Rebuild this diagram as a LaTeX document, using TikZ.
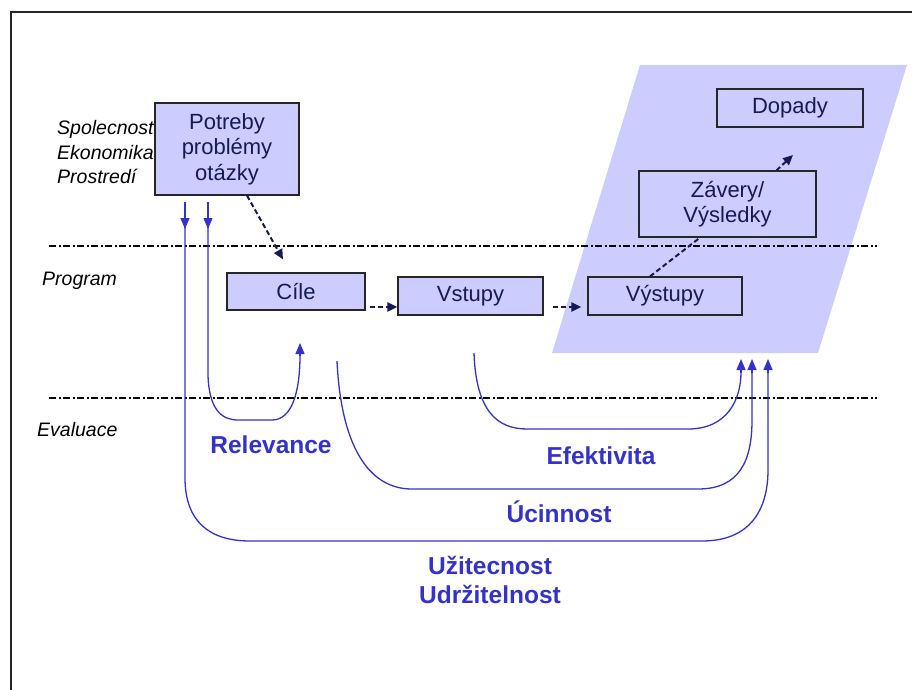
\documentclass[tikz,border=0pt]{standalone}
\usepackage{fontspec}
\setmainfont{Liberation Sans}
\usetikzlibrary{arrows.meta,calc}
\definecolor{boxfill}{HTML}{CCCCFF}
\definecolor{navy}{HTML}{141A55}
\definecolor{lblue}{HTML}{3333CC}
\definecolor{bordergray}{HTML}{262626}
\begin{document}
\begin{tikzpicture}[x=1pt,y=-1pt,
  stepbox/.style={draw=bordergray, line width=1.2pt, fill=boxfill, text=navy,
    font=\fontsize{22}{25.5}\selectfont, align=center, inner sep=0pt},
  sidelbl/.style={font=\fontsize{19.5}{24}\selectfont\itshape, text=black, anchor=base west, inner sep=0pt},
  evallbl/.style={font=\fontsize{24.5}{30}\selectfont\bfseries, text=lblue, align=center, inner sep=0pt},
  dashdotline/.style={line width=2pt, dash pattern=on 7pt off 2.5pt on 2pt off 2.5pt},
  dasharrow/.style={draw=navy, line width=2pt, dash pattern=on 5pt off 3pt, -{Triangle[length=10pt,width=9pt]}},
  dashnoarrow/.style={draw=navy, line width=2pt, dash pattern=on 5pt off 3pt},
  bluearrow/.style={draw=lblue, line width=1.3pt, -{Triangle[length=11pt,width=9pt]}},
  blueline/.style={draw=lblue, line width=1.3pt}
]
\useasboundingbox (0,0) rectangle (912,690);
\fill[white] (0,0) rectangle (912,690);
% frame
\draw[line width=1.5pt, draw=black!85] (11,690) -- (11,12) -- (912,12);

% parallelogram
\fill[boxfill] (640,65) -- (907,65) -- (818,353) -- (552,353) -- cycle;

% side labels
\node[sidelbl] (lsp) at (57,135) {Spolecnost};
\node[sidelbl] (lek) at (57,159) {Ekonomika};
\node[sidelbl] (lpr) at (57,183) {Prostredí};
\node[sidelbl] (lpg) at (42,285) {Program};
\node[sidelbl] (lev) at (37,436) {Evaluace};

% separators
\coordinate (s1a) at (49,246); \coordinate (s1b) at (877,246);
\coordinate (s2a) at (49,398); \coordinate (s2b) at (877,398);
\draw[dashdotline] (s1a) -- (s1b);
\draw[dashdotline] (s2a) -- (s2b);

% boxes
\node[stepbox, minimum width=144pt, minimum height=92pt] (pot) at (227,149) {Potreby\\problémy\\otázky};
\node[stepbox, minimum width=138pt, minimum height=37pt] (cile) at (296,291.5) {Cíle};
\node[stepbox, minimum width=145pt, minimum height=38pt] (vst) at (470.5,296) {Vstupy};
\node[stepbox, minimum width=154pt, minimum height=38pt] (vys) at (665,296) {Výstupy};
\node[stepbox, minimum width=177pt, minimum height=66pt] (zav) at (727.5,204) {Závery/\\Výsledky};
\node[stepbox, minimum width=146pt, minimum height=38pt] (dop) at (790,108) {Dopady};

% dashed connectors
\coordinate (pc1) at ($(pot.south)+(20,0)$);
\coordinate (pc2) at ($(cile.north)+(-13,-13)$);
\draw[dasharrow] (pc1) -- (pc2);
\draw[dasharrow] ($(cile.east)+(4,15.5)$) -- ($(vst.west)+(0,11)$);
\draw[dasharrow] ($(vst.east)+(9,11)$) -- ($(vys.west)+(-6,11)$);
\coordinate (vz1) at ($(vys.north)+(-15,0)$);
\coordinate (vz2) at ($(zav.south)+(-27.5,0)$);
\draw[dashnoarrow] (vz1) -- (vz2);
\coordinate (zd1) at ($(zav.north)+(49,0)$);
\coordinate (zd2) at (793,155);
\draw[dasharrow] (zd1) -- (zd2);

% blue evaluation paths
\coordinate (d1) at (185,202);
\coordinate (d2) at (208,202);
\draw[bluearrow] (d1) -- (185,229);
\draw[bluearrow] (d2) -- (208,229);

% Relevance
\coordinate (relend) at (300,343);
\draw[blueline] (d2) -- (208,375) .. controls (209,410) and (222,420) .. (238,420)
  -- (272,420) .. controls (292,420) and (300,392) .. (300,355);
\draw[bluearrow] (300,356) -- (relend);

% Efektivita
\coordinate (ef1) at (474,353);
\coordinate (efend) at (741,359);
\draw[blueline] (ef1) .. controls (476,412) and (498,429) .. (527,429)
  -- (688,429) .. controls (727,429) and (741,400) .. (741,372);
\draw[bluearrow] (741,373) -- (efend);

% Ucinnost
\coordinate (uc1) at (337,361);
\coordinate (ucend) at (752,359);
\draw[blueline] (uc1) .. controls (341,445) and (368,489) .. (412,489)
  -- (698,489) .. controls (740,489) and (752,460) .. (752,420) -- (752,372);
\draw[bluearrow] (752,373) -- (ucend);

% Uzitecnost
\coordinate (utend) at (768,359);
\draw[blueline] (d1) -- (185,478) .. controls (185,522) and (210,541) .. (250,541)
  -- (702,541) .. controls (750,541) and (768,510) .. (768,470) -- (768,372);
\draw[bluearrow] (768,373) -- (utend);

% labels
\node[evallbl] (lrel) at (271,445) {Relevance};
\node[evallbl] (lef) at (601,456) {Efektivita};
\node[evallbl] (luc) at (559,512) {Úcinnost};
\node[evallbl] (lut) at (490,580) {Užitecnost\\[-0.5pt]Udržitelnost};
\end{tikzpicture}
\end{document}
